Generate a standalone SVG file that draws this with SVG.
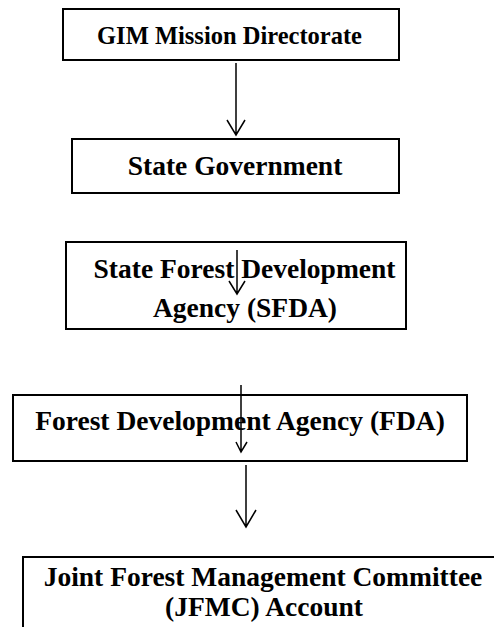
<svg xmlns="http://www.w3.org/2000/svg" width="494" height="627" viewBox="0 0 494 627">
<style>
.box{fill:#fff;stroke:#000;stroke-width:2}
.t{font-family:"Liberation Serif","Times New Roman",serif;font-weight:bold;font-size:27.5px;fill:#000;text-anchor:middle}
.c{fill:none;stroke:#000;stroke-width:1.5}
</style>
<rect width="494" height="627" fill="#fff"/>
<g id="n1"><rect class="box" x="63" y="9" width="336" height="51"/><text class="t" x="229.5" y="44" style="font-size:24.5px">GIM Mission Directorate</text></g>
<g id="n2"><rect class="box" x="72" y="139" width="327" height="54"/><text class="t" x="235" y="175">State Government</text></g>
<g id="n3"><rect class="box" x="66" y="242" width="340" height="87"/><text class="t" x="244.5" y="278">State Forest Development</text><text class="t" x="245" y="317">Agency (SFDA)</text></g>
<g id="n4"><rect class="box" x="13" y="395" width="454" height="66"/><text class="t" x="240" y="430">Forest Development Agency (FDA)</text></g>
<g id="n5"><rect class="box" x="23" y="557" width="490" height="100"/><text class="t" x="263" y="586">Joint Forest Management Committee</text><text class="t" x="264" y="616">(JFMC) Account</text></g>
<g id="connectors">
<path class="c" d="M236 63V135M227 120L236 135L245 120"/>
<path class="c" d="M237 250V294M229 281L237 294L245 281"/>
<path class="c" d="M241 385V452M236 442L241 452L247 442"/>
<path class="c" d="M246 465V527M236 510L246 527L256 510"/>
</g>
</svg>
